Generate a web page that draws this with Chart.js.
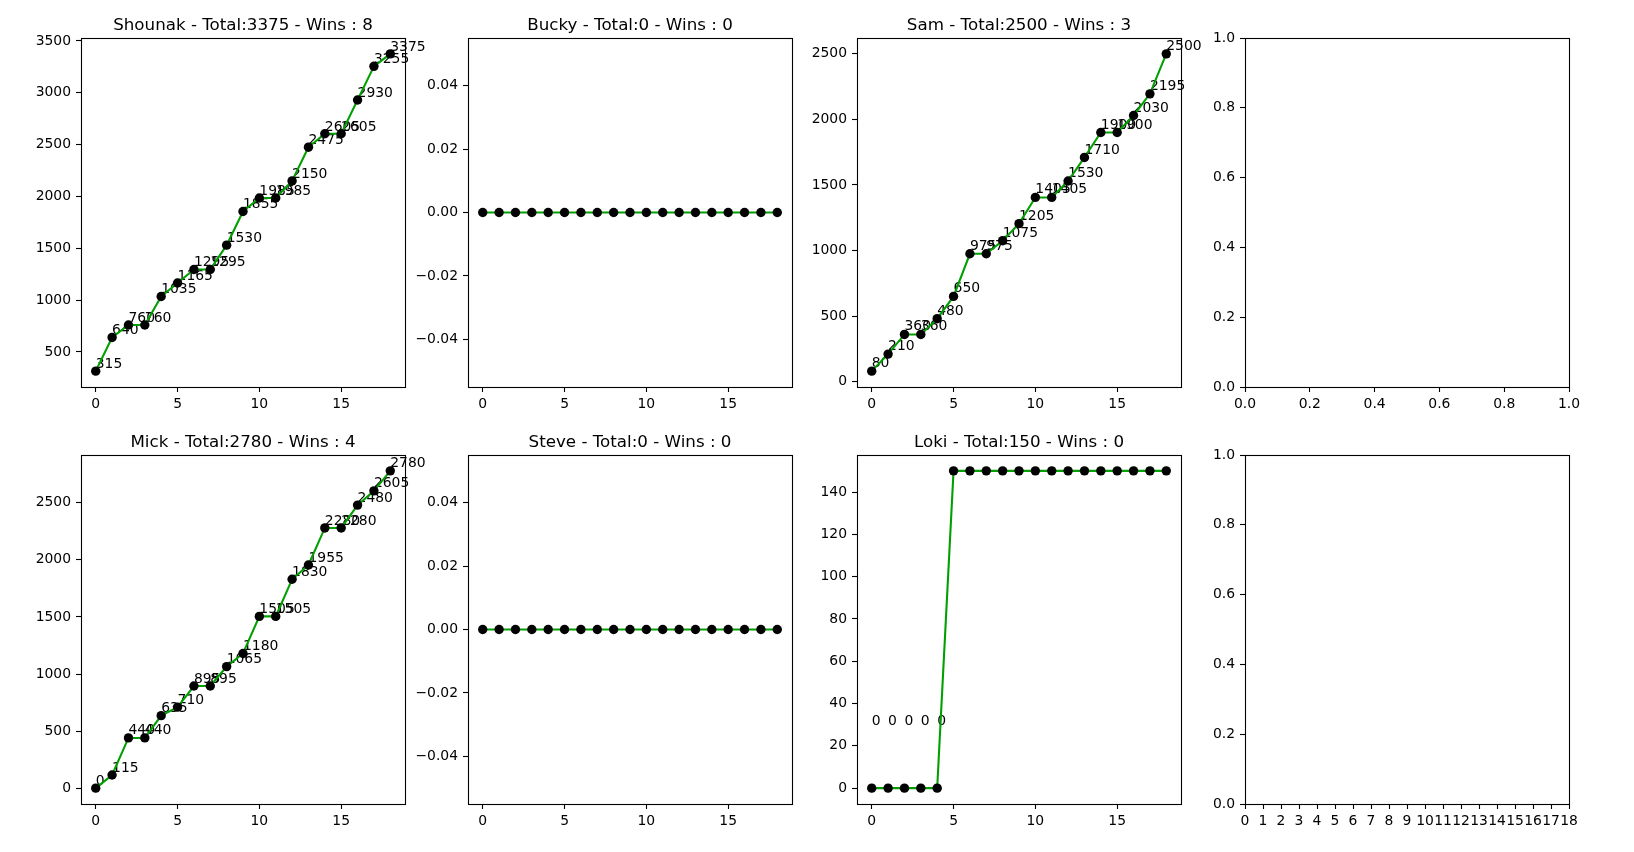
<!DOCTYPE html>
<html><head><meta charset="utf-8">
<script src="https://cdn.jsdelivr.net/npm/chart.js@4.4.1/dist/chart.umd.min.js"></script>
<style>
body{margin:0;background:#fff;width:1634px;height:852px;overflow:hidden;position:relative;}
canvas{position:absolute;}
</style>
</head><body>
<script>
// ---- data ----
const rounds = [0,1,2,3,4,5,6,7,8,9,10,11,12,13,14,15,16,17,18];
const shounakScores = [315,640,760,760,1035,1165,1295,1295,1530,1855,1985,1985,2150,2475,2605,2605,2930,3255,3375];
const buckyScores   = [0,0,0,0,0,0,0,0,0,0,0,0,0,0,0,0,0,0,0];
const samScores     = [80,210,360,360,480,650,975,975,1075,1205,1405,1405,1530,1710,1900,1900,2030,2195,2500];
const mickScores    = [0,115,440,440,635,710,895,895,1065,1180,1505,1505,1830,1955,2280,2280,2480,2605,2780];
const steveScores   = [0,0,0,0,0,0,0,0,0,0,0,0,0,0,0,0,0,0,0];
const lokiScores    = [0,0,0,0,0,150,150,150,150,150,150,150,150,150,150,150,150,150,150];

const playerNames  = ["Shounak","Bucky","Sam","Mick","Steve","Loki"];
const playerTotals = [3375,0,2500,2780,0,150];
const playerWins   = [8,0,3,4,0,0];

// tick labels
const roundTicks    = [0,5,10,15];
const allRoundTicks = [0,1,2,3,4,5,6,7,8,9,10,11,12,13,14,15,16,17,18];
const shounakYTicks = [500,1000,1500,2000,2500,3000,3500];
const zeroYTicks    = [-0.04,-0.02,0,0.02,0.04];
const samYTicks     = [0,500,1000,1500,2000,2500];
const mickYTicks    = [0,500,1000,1500,2000,2500];
const lokiYTicks    = [0,20,40,60,80,100,120,140];
const unitTicks     = [0,0.2,0.4,0.6,0.8,1.0];

// ---- layout ----
const colX = [81, 468, 857, 1245];
const rowY = [38, 455];
const AREA_W = 324, AREA_H = 349;
const PAD_L = 80, PAD_T = 40, PAD_R = 50, PAD_B = 40;
const LABEL_OFFSET = 30;
const FONT = "'DejaVu Sans', sans-serif";

function fmt(v, dec){
  const s = Math.abs(v).toFixed(dec);
  return (v < -1e-12 ? "\u2212" : "") + s;
}
function autoRange(vals){
  let lo = Math.min(...vals), hi = Math.max(...vals);
  if (lo === hi){ const e = lo === 0 ? 0.05 : Math.abs(lo)*0.05; lo -= e; hi += e; }
  const m = (hi-lo)*0.05;
  return [lo-m, hi+m];
}

const panels = [
  {p:0, values:shounakScores, yTicks:shounakYTicks, yDec:0, col:0, row:0},
  {p:1, values:buckyScores,   yTicks:zeroYTicks,    yDec:2, col:1, row:0},
  {p:2, values:samScores,     yTicks:samYTicks,     yDec:0, col:2, row:0},
  {p:null, col:3, row:0, xTicks:unitTicks, xDec:1, xMin:0, xMax:1},
  {p:3, values:mickScores,    yTicks:mickYTicks,    yDec:0, col:0, row:1},
  {p:4, values:steveScores,   yTicks:zeroYTicks,    yDec:2, col:1, row:1},
  {p:5, values:lokiScores,    yTicks:lokiYTicks,    yDec:0, col:2, row:1},
  {p:null, col:3, row:1, xTicks:allRoundTicks, xDec:0, xMin:0, xMax:18},
];

const framePlugin = {
  id:'frame',
  beforeDatasetsDraw(chart, args, opts){
    const cfg = chart.options.plugins.frame;
    if (!cfg.values) return;
    const xs = chart.scales.x, ys = chart.scales.y, ctx = chart.ctx;
    ctx.save();
    ctx.font = "13.9px " + FONT;
    ctx.fillStyle = "#000";
    ctx.textAlign = "left";
    ctx.textBaseline = "alphabetic";
    cfg.values.forEach((v,i)=>{
      const ly = v + LABEL_OFFSET;
      if (ly < ys.min || ly > ys.max) return;
      ctx.fillText(String(v), xs.getPixelForValue(rounds[i]), ys.getPixelForValue(ly));
    });
    ctx.restore();
  },
  afterDraw(chart){
    const cfg = chart.options.plugins.frame;
    const a = chart.chartArea, ctx = chart.ctx;
    ctx.save();
    ctx.strokeStyle = "#000";
    ctx.lineWidth = 1.1;
    ctx.strokeRect(Math.round(a.left)+0.5, Math.round(a.top)+0.5, Math.round(a.right)-Math.round(a.left), Math.round(a.bottom)-Math.round(a.top));
    if (cfg.title){
      ctx.font = "16.7px " + FONT;
      ctx.fillStyle = "#000";
      ctx.textAlign = "center";
      ctx.textBaseline = "alphabetic";
      ctx.fillText(cfg.title, (a.left+a.right)/2, a.top - 8.5);
    }
    ctx.restore();
  }
};

panels.forEach(pn=>{
  const cv = document.createElement('canvas');
  const W = PAD_L + AREA_W + PAD_R, H = PAD_T + AREA_H + PAD_B;
  cv.width = W; cv.height = H;
  cv.style.left = (colX[pn.col]-PAD_L) + 'px';
  cv.style.top = (rowY[pn.row]-PAD_T) + 'px';
  cv.style.width = W+'px'; cv.style.height = H+'px';
  document.body.appendChild(cv);

  let datasets = [], title = null, xMin, xMax, yMin, yMax, xTicks, xDec, yTicks, yDec;
  if (pn.p !== null){
    const vals = pn.values;
    datasets = [{
      data: vals.map((v,i)=>({x:rounds[i], y:v})),
      borderColor:'#00a000', borderWidth:2.08, fill:false, tension:0,
      pointRadius:4.7, pointHoverRadius:4.7, pointBackgroundColor:'#000', pointBorderColor:'#000', pointBorderWidth:0,
      clip:false
    }];
    title = playerNames[pn.p] + " - Total:" + playerTotals[pn.p] + " - Wins : " + playerWins[pn.p];
    [xMin,xMax] = autoRange(rounds);
    [yMin,yMax] = autoRange(vals);
    xTicks = roundTicks; xDec = 0; yTicks = pn.yTicks; yDec = pn.yDec;
  } else {
    xMin = pn.xMin; xMax = pn.xMax; yMin = 0; yMax = 1;
    xTicks = pn.xTicks; xDec = pn.xDec; yTicks = unitTicks; yDec = 1;
  }

  const axisCommon = {
    type:'linear',
    grid:{display:true, drawOnChartArea:false, drawTicks:true, tickLength:5, tickColor:'#000', tickWidth:1.1, color:'rgba(0,0,0,0)'},
    border:{display:false},
  };
  new Chart(cv, {
    type:'line',
    data:{datasets},
    options:{
      responsive:false, animation:false, devicePixelRatio:1,
      layout:{padding:{left:0, top:PAD_T, right:PAD_R, bottom:0}, autoPadding:false},
      plugins:{legend:{display:false}, tooltip:{enabled:false}, title:{display:false},
        frame:{title, values: pn.p!==null ? pn.values : null}},
      events:[],
      scales:{
        x:Object.assign({}, axisCommon, {
          position:'bottom', min:xMin, max:xMax,
          afterBuildTicks:(s)=>{ s.ticks = xTicks.map(v=>({value:v})); },
          afterFit:(s)=>{ s.height = PAD_B; },
          ticks:{color:'#000', font:{family:FONT, size:13.9}, padding:4, maxRotation:0, autoSkip:false,
            callback:(v)=>fmt(v, xDec)}
        }),
        y:Object.assign({}, axisCommon, {
          position:'left', min:yMin, max:yMax,
          afterBuildTicks:(s)=>{ s.ticks = yTicks.map(v=>({value:v})); },
          afterFit:(s)=>{ s.width = PAD_L; },
          ticks:{color:'#000', font:{family:FONT, size:13.9}, padding:5, autoSkip:false,
            callback:(v)=>fmt(v, yDec)}
        })
      }
    },
    plugins:[framePlugin]
  });
});
</script>
</body></html>
